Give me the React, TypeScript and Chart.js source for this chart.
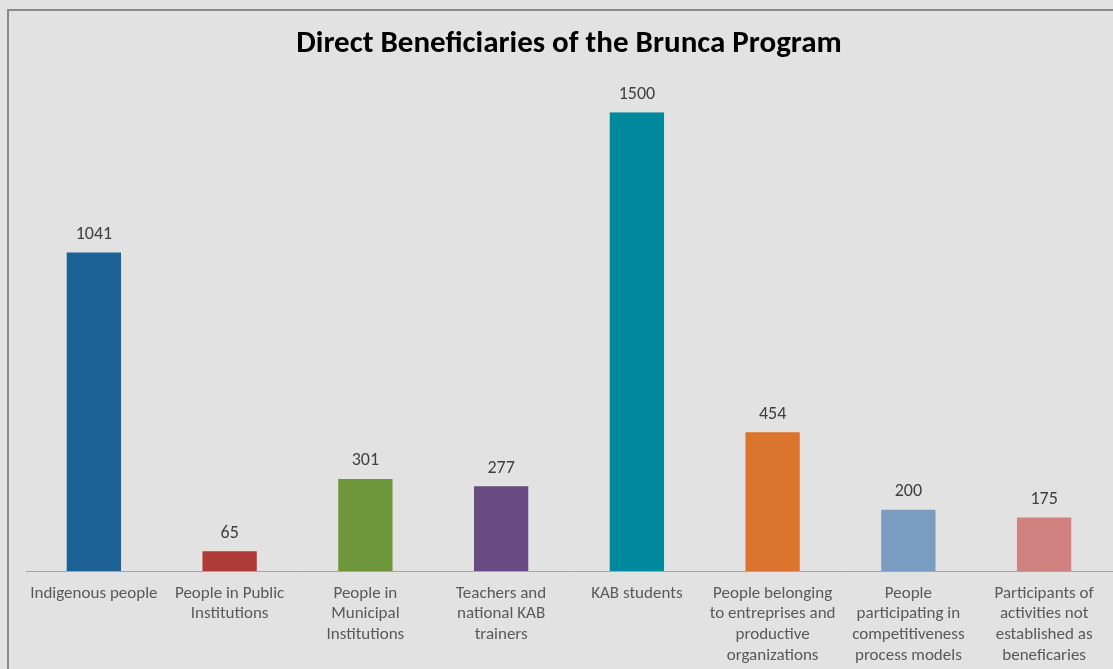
import React, { useEffect, useRef } from "react";
import { Chart, registerables } from "chart.js";

Chart.register(...registerables);

const chartTitle = "Direct Beneficiaries of the Brunca Program";
const categories: string[][] = [
  ["Indigenous people"],
  ["People in Public", "Institutions"],
  ["People in", "Municipal", "Institutions"],
  ["Teachers and", "national KAB", "trainers"],
  ["KAB students"],
  ["People belonging", "to entreprises and", "productive", "organizations"],
  ["People", "participating in", "competitiveness", "process models"],
  ["Participants of", "activities not", "established as", "beneficaries"],
];
const values: number[] = [1041, 65, 301, 277, 1500, 454, 200, 175];
const barColors: string[] = [
  "#1c6194",
  "#b03a37",
  "#6e963a",
  "#6a4a82",
  "#00889c",
  "#db742c",
  "#7b9cc1",
  "#d18180",
];

const FONT = "Carlito, Lato, 'Open Sans', sans-serif";

const decorPlugin = {
  id: "decor",
  beforeDraw(chart: any) {
    const { ctx, width, height } = chart;
    ctx.save();
    ctx.fillStyle = "#e2e2e2";
    ctx.fillRect(0, 0, width, height);
    ctx.strokeStyle = "#8a8a8a";
    ctx.lineWidth = 2;
    ctx.beginPath();
    ctx.moveTo(8, height);
    ctx.lineTo(8, 10);
    ctx.lineTo(width, 10);
    ctx.stroke();
    ctx.restore();
  },
  afterDatasetsDraw(chart: any) {
    const { ctx } = chart;
    const meta = chart.getDatasetMeta(0);
    ctx.save();
    ctx.fillStyle = "#404040";
    ctx.font = "18px " + FONT;
    ctx.textAlign = "center";
    ctx.textBaseline = "middle";
    meta.data.forEach((bar: any, i: number) => {
      ctx.fillText(String(values[i]), bar.x, bar.y - 18);
    });
    ctx.restore();
  },
};

export default function App() {
  const ref = useRef<HTMLCanvasElement>(null);
  useEffect(() => {
    document.body.style.margin = "0";
    const chart = new Chart(ref.current!, {
      type: "bar",
      data: {
        labels: categories,
        datasets: [
          {
            data: values,
            backgroundColor: barColors,
            barPercentage: 0.4,
            categoryPercentage: 1,
          },
        ],
      },
      options: {
        animation: false,
        responsive: false,
        layout: { padding: { left: 26, right: 1, top: 0, bottom: -9 } },
        plugins: {
          legend: { display: false },
          tooltip: { enabled: false },
          title: {
            display: true,
            text: chartTitle,
            color: "#000000",
            font: { family: FONT, size: 31, weight: "bold", lineHeight: 1.2 },
            padding: { top: 26, bottom: 49 },
          },
        },
        scales: {
          x: {
            grid: { display: false, drawTicks: false },
            border: { display: true, color: "#a6a6a6", width: 1 },
            ticks: {
              color: "#595959",
              font: { family: FONT, size: 17, lineHeight: 1.22 },
              padding: 12,
              maxRotation: 0,
              autoSkip: false,
            },
          },
          y: {
            display: false,
            min: 0,
            max: 1500,
          },
        },
      },
      plugins: [decorPlugin],
    });
    return () => chart.destroy();
  }, []);
  return <canvas ref={ref} width={1113} height={669} style={{ display: "block" }} />;
}
